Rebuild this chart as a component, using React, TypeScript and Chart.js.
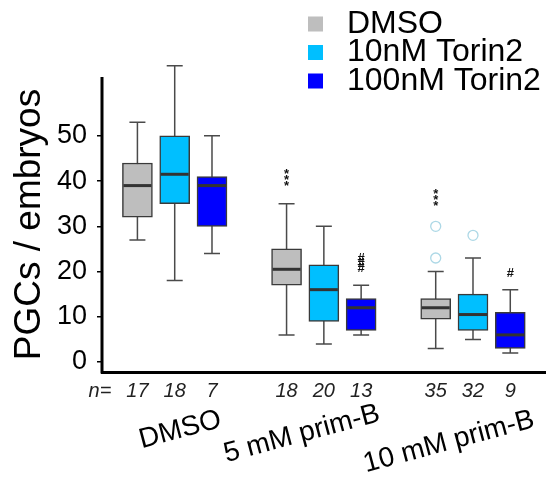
import React, { useEffect, useRef } from 'react';
import { Chart, registerables } from 'chart.js';

Chart.register(...registerables);

const FONT = '"Liberation Sans", Arial, Helvetica, sans-serif';

// ---- data ----
const seriesLabels = ['DMSO', '10nM Torin2', '100nM Torin2'];
const seriesColors = ['#BEBEBE', '#00BFFF', '#0000FF'];
const groupLabels = ['DMSO', '5 mM prim-B', '10 mM prim-B'];
const groupCenters = [1, 5, 9];
// box x positions, [series][group]
const boxPositions = [
  [0, 4, 8],
  [1, 5, 9],
  [2, 6, 10],
];
const whiskerLow = [
  [27, 6, 3],
  [18, 4, 5],
  [24, 6, 2],
];
const quartile1 = [
  [32, 17, 9.5],
  [35, 9, 7],
  [30, 7, 3],
];
const medians = [
  [39, 20.5, 12],
  [41.5, 16, 10.5],
  [39, 12, 6],
];
const quartile3 = [
  [44, 25, 14],
  [50, 21.5, 15],
  [41, 14, 11],
];
const whiskerHigh = [
  [53, 35, 20],
  [65.5, 30, 23],
  [50, 17, 16],
];
const outlierX = [0, 8, 8, 9];
const outlierY = [65.3, 30, 23, 28];

const sampleSizes = [17, 18, 7, 18, 20, 13, 35, 32, 9];
const samplePositions = [0, 1, 2, 4, 5, 6, 8, 9, 10];

const sigMarks = ['***', '###', '***', '#'];
const sigX = [4, 6, 8, 10];
const sigY = [40.7, 21.9, 36.3, 19.5];

const yTicks = [0, 10, 20, 30, 40, 50];
const yAxisTop = 63;

// label offsets (layout only)
const groupLabelDx = [5.5, -22, -24];
const groupLabelY = [430, 434, 442];

const boxExtras = {
  id: 'boxExtras',
  beforeDatasetsDraw(chart: any) {
    const { ctx } = chart;
    const x = chart.scales.x;
    const y = chart.scales.y;
    ctx.save();
    ctx.strokeStyle = '#4a4a4a';
    ctx.lineWidth = 1.5;
    for (let s = 0; s < 3; s++) {
      for (let g = 0; g < 3; g++) {
        const px = x.getPixelForValue(boxPositions[s][g]);
        const lo = y.getPixelForValue(whiskerLow[s][g]);
        const hi = y.getPixelForValue(whiskerHigh[s][g]);
        const cap = 8;
        ctx.beginPath();
        ctx.moveTo(px, lo);
        ctx.lineTo(px, hi);
        ctx.moveTo(px - cap, lo);
        ctx.lineTo(px + cap, lo);
        ctx.moveTo(px - cap, hi);
        ctx.lineTo(px + cap, hi);
        ctx.stroke();
      }
    }
    // y axis line up to its top value
    ctx.strokeStyle = '#000';
    ctx.lineWidth = 3;
    ctx.beginPath();
    ctx.moveTo(x.left, y.getPixelForValue(yAxisTop));
    ctx.lineTo(x.left, y.bottom + 1.5);
    ctx.stroke();
    ctx.restore();
  },
  afterDatasetsDraw(chart: any) {
    const { ctx } = chart;
    const x = chart.scales.x;
    const y = chart.scales.y;
    ctx.save();
    ctx.strokeStyle = '#333';
    ctx.lineWidth = 3;
    for (let s = 0; s < 3; s++) {
      const meta = chart.getDatasetMeta(s);
      for (let g = 0; g < 3; g++) {
        const bar = meta.data[g];
        const half = bar.width / 2;
        const px = x.getPixelForValue(boxPositions[s][g]);
        const py = y.getPixelForValue(medians[s][g]);
        ctx.beginPath();
        ctx.moveTo(px - half + 1, py);
        ctx.lineTo(px + half - 1, py);
        ctx.stroke();
      }
    }
    ctx.restore();
  },
  afterDraw(chart: any) {
    const { ctx } = chart;
    const x = chart.scales.x;
    const y = chart.scales.y;
    ctx.save();
    // significance marks
    ctx.fillStyle = '#111';
    ctx.textAlign = 'center';
    ctx.textBaseline = 'middle';
    sigMarks.forEach((m, i) => {
      const px = x.getPixelForValue(sigX[i]);
      const py = y.getPixelForValue(sigY[i]);
      const n = m.length;
      const isStar = m[0] === '*';
      ctx.font = isStar ? `bold 13px ${FONT}` : `bold 13px ${FONT}`;
      const step = isStar ? 6 : 5;
      for (let k = 0; k < n; k++) {
        const off = (k - (n - 1) / 2) * step;
        ctx.fillText(m[k], px, py + off + (isStar ? 2.5 : 0));
      }
    });
    // n= row
    const nY = 391;
    ctx.fillStyle = '#222';
    ctx.font = `italic 20px ${FONT}`;
    ctx.fillText('n=', 100, nY);
    sampleSizes.forEach((v, i) => {
      ctx.fillText(String(v), x.getPixelForValue(samplePositions[i]), nY);
    });
    // group labels
    ctx.fillStyle = '#000';
    ctx.font = `28px ${FONT}`;
    groupLabels.forEach((lab, i) => {
      const px = x.getPixelForValue(groupCenters[i]) + groupLabelDx[i];
      ctx.save();
      ctx.translate(px, groupLabelY[i]);
      ctx.rotate((-15 * Math.PI) / 180);
      ctx.fillText(lab, 0, 0);
      ctx.restore();
    });
    // legend
    ctx.textAlign = 'left';
    ctx.font = `32px ${FONT}`;
    chart.data.datasets.slice(0, 3).forEach((ds: any, i: number) => {
      const rowY = 24 + 28.5 * i;
      ctx.fillStyle = ds.backgroundColor;
      ctx.fillRect(308, rowY - 7.5, 15, 15);
      ctx.fillStyle = '#000';
      ctx.fillText(ds.label, 347, rowY);
    });
    ctx.restore();
  },
};

export default function App() {
  const ref = useRef<HTMLCanvasElement>(null);
  useEffect(() => {
    if (!ref.current) return;
    Chart.defaults.font.family = FONT;
    const datasets: any[] = seriesLabels.map((label, s) => ({
      type: 'bar',
      label,
      data: boxPositions[s].map((px, g) => ({ x: px, y: [quartile1[s][g], quartile3[s][g]] })),
      backgroundColor: seriesColors[s],
      borderColor: '#3a3a3a',
      borderWidth: 1.5,
      borderSkipped: false,
      barThickness: 30,
      grouped: false,
    }));
    datasets.push({
      type: 'scatter',
      label: 'outliers',
      data: outlierX.map((px, i) => ({ x: px, y: outlierY[i] })),
      pointRadius: 5,
      pointStyle: 'circle',
      borderColor: '#ADD8E6',
      pointBorderColor: '#ADD8E6',
      pointBackgroundColor: 'rgba(0,0,0,0)',
      backgroundColor: 'rgba(0,0,0,0)',
      pointBorderWidth: 1.3,
      clip: false,
    });
    const chart = new Chart(ref.current, {
      type: 'bar',
      data: { datasets },
      plugins: [boxExtras],
      options: {
        animation: false,
        responsive: true,
        maintainAspectRatio: false,
        events: [],
        layout: { padding: { top: 77, right: 4, left: 0, bottom: 0 } },
        plugins: { legend: { display: false }, tooltip: { enabled: false } },
        scales: {
          x: {
            type: 'linear',
            min: -0.95,
            max: 10.95,
            offset: false,
            ticks: { display: false },
            grid: { display: false },
            border: { display: true, color: '#000', width: 3 },
            afterFit: (scale: any) => {
              scale.height = 115;
            },
          },
          y: {
            type: 'linear',
            min: -2.2,
            max: yAxisTop,
            afterBuildTicks: (scale: any) => {
              scale.ticks = yTicks.map((v) => ({ value: v }));
            },
            ticks: {
              color: '#000',
              font: { family: FONT, size: 27 },
              padding: 10,
            },
            grid: {
              display: true,
              drawOnChartArea: false,
              drawTicks: true,
              tickLength: 5,
              color: '#000',
              lineWidth: 1.5,
            },
            border: { display: false },
            title: {
              display: true,
              text: 'PGCs / embryos',
              color: '#000',
              font: { family: FONT, size: 37 },
              padding: { top: 8, bottom: 0 },
            },
            afterFit: (scale: any) => {
              scale.width = 102;
            },
          },
        },
      } as any,
    } as any);
    return () => chart.destroy();
  }, []);
  return (
    <div style={{ position: 'absolute', left: 0, top: 0, width: 552, height: 487, background: '#fff' }}>
      <canvas ref={ref} />
    </div>
  );
}
